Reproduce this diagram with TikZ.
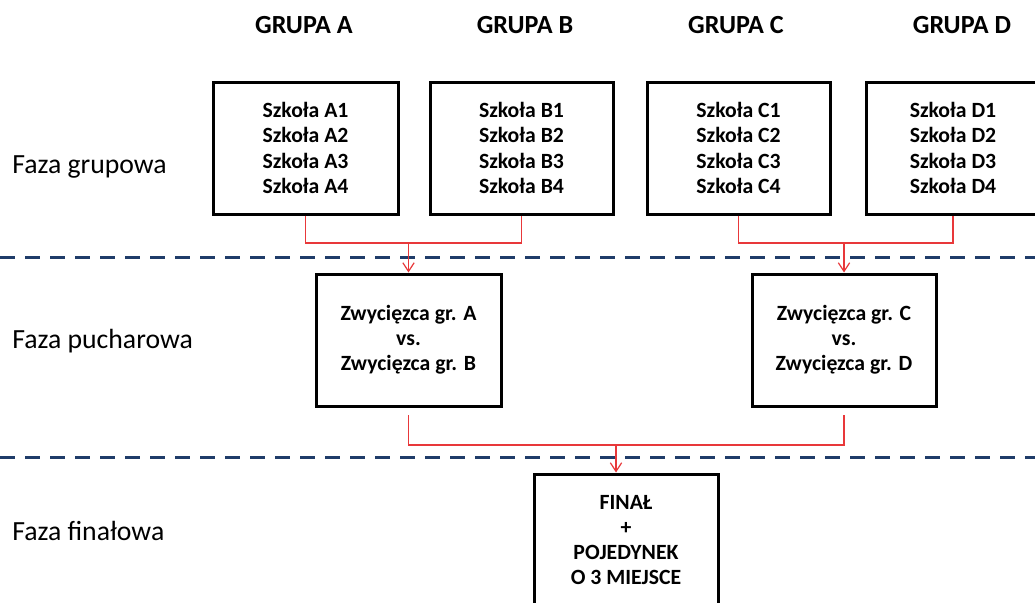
\documentclass[tikz,border=0pt]{standalone}
\usepackage{fontspec}
\setmainfont{Carlito}
\usetikzlibrary{arrows.meta,calc}
\definecolor{navy}{HTML}{1F3C69}
\definecolor{conred}{HTML}{E8383A}
\begin{document}
\begin{tikzpicture}[x=0.75pt,y=-0.75pt,
  box/.style={draw=black,line width=2.25pt,fill=white,align=center,
    font=\fontsize{16.3}{18.9}\selectfont\bfseries,
    minimum width=#1*0.75pt,minimum height=99pt,inner sep=0pt},
  head/.style={font=\fontsize{19.6}{23}\selectfont\bfseries,anchor=base,inner sep=0pt},
  phase/.style={font=\fontsize{20.8}{24}\selectfont,anchor=base west,inner sep=0pt},
  sep/.style={draw=navy,line width=2.25pt,dash pattern=on 11.25pt off 7.5pt},
  conn/.style={draw=conred,line width=0.9pt},
  arr/.style={conn,-{Straight Barb[length=6.5pt,width=8.5pt]}}]
\useasboundingbox (0,0) rectangle (1035,603);
\clip (0,0) rectangle (1035,603);

% headings
\node[head] (hA) at (304,33) {GRUPA A};
\node[head] (hB) at (525,33) {GRUPA B};
\node[head] (hC) at (736,33) {GRUPA C};
\node[head] (hD) at (962,33) {GRUPA D};

% phase labels
\node[phase] (p1) at (12,173) {Faza grupowa};
\node[phase] (p2) at (12,348) {Faza pucharowa};
\node[phase] (p3) at (12,540) {Faza finałowa};

% separators
\coordinate (s1l) at (0,257);
\coordinate (s1r) at (1035,257);
\coordinate (s2l) at (0,457);
\coordinate (s2r) at (1035,457);
\draw[sep] (s1l) -- (s1r);
\draw[sep] (s2l) -- (s2r);

% group boxes
\node[box=185] (A) at (305.5,148) {Szkoła A1\\Szkoła A2\\Szkoła A3\\Szkoła A4};
\node[box=183] (B) at (521.5,148) {Szkoła B1\\Szkoła B2\\Szkoła B3\\Szkoła B4};
\node[box=183] (C) at (738.5,148) {Szkoła C1\\Szkoła C2\\Szkoła C3\\Szkoła C4};
\node[box=174] (D) at (953,148) {Szkoła D1\\Szkoła D2\\Szkoła D3\\Szkoła D4};

% cup boxes
\node[box=185] (cupA) at (408.5,340) {Zwycięzca gr. A\\vs.\\Zwycięzca gr. B};
\node[box=184] (cupC) at (844,340) {Zwycięzca gr. C\\vs.\\Zwycięzca gr. D};

% final box
\node[box=184] (F) at (626,540) {FINAŁ\\+\\POJEDYNEK\\O 3 MIEJSCE};

% connectors group -> cup
\coordinate (l1) at (0,243);
\draw[conn] (A.south) -- (A.south |- l1) -- (B.south |- l1) -- (B.south);
\draw[arr] (cupA.north |- l1) -- (cupA.north);
\draw[conn] (C.south) -- (C.south |- l1) -- (D.south |- l1) -- (D.south);
\draw[arr] (cupC.north |- l1) -- (cupC.north);

% connectors cup -> final
\coordinate (l2) at (0,415);
\coordinate (l3) at (0,445);
\coordinate (jF) at (616,445);
\draw[conn] (cupA.south |- l2) -- (cupA.south |- l3) -- (cupC.south |- l3) -- (cupC.south |- l2);
\draw[arr] (jF) -- (jF |- F.north);
\end{tikzpicture}
\end{document}
